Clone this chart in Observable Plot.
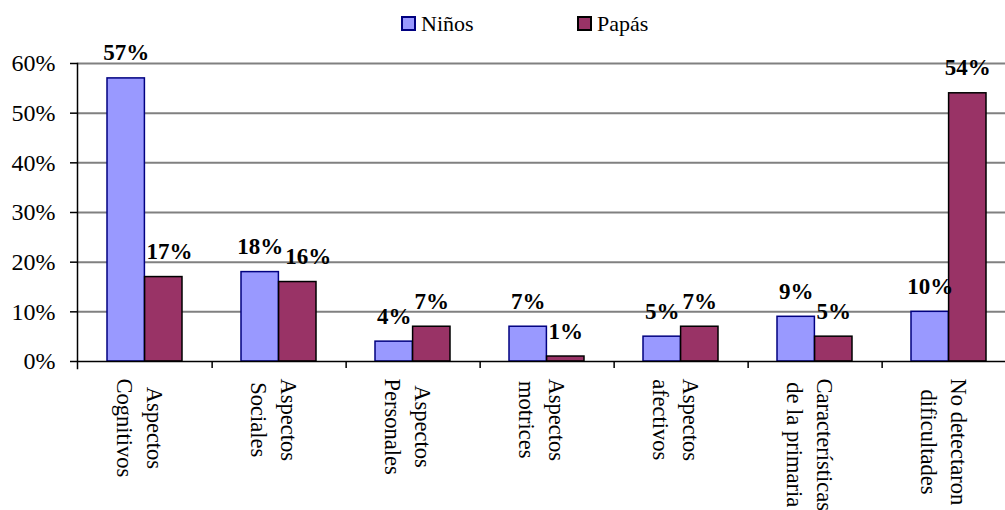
<!DOCTYPE html>
<html><head><meta charset="utf-8">
<script src="https://cdn.jsdelivr.net/npm/d3@7"></script>
<script src="https://cdn.jsdelivr.net/npm/@observablehq/plot@0.6"></script>
<style>
body{margin:0;background:#fff;font-family:"Liberation Serif","Times New Roman",serif;}
#wrap{position:relative;width:1005px;height:510px;overflow:hidden;}
.leg{position:absolute;top:11px;display:flex;align-items:center;font-size:22px;color:#000;line-height:25px;}
.sw{box-sizing:border-box;width:15px;height:15px;border:2px solid;margin-right:5px;}
</style></head><body><div id="wrap"></div>
<script>
const categories = ["Aspectos\nCognitivos", "Aspectos\nSociales", "Aspectos\nPersonales", "Aspectos\nmotrices", "Aspectos\nafectivos", "Características\nde la primaria", "No detectaron\ndificultades"];
const ninos = [57, 18, 4, 7, 5, 9, 10];
const papas = [17, 16, 7, 1, 7, 5, 54];
const series = ["Niños", "Papás"];
const yTicks = [0, 10, 20, 30, 40, 50, 60];
const fills = {"Niños": "#9999FF", "Papás": "#993366"};
const strokes = {"Niños": "#000080", "Papás": "#000000"};

const rows = categories.map((c, i) => ({category: c, ninos: ninos[i], papas: papas[i]}));

const wrap = document.getElementById("wrap");
// legend
const legLeft = {"Niños": 401, "Papás": 577};
series.forEach(s => {
  const d = document.createElement("div");
  d.className = "leg";
  d.style.left = legLeft[s] + "px";
  const sw = document.createElement("div");
  sw.className = "sw";
  sw.style.background = fills[s];
  sw.style.borderColor = strokes[s];
  const t = document.createElement("span");
  t.textContent = s;
  d.append(sw, t);
  wrap.append(d);
});

const left = 77, right = 1017;
const pIn = 0.44, pOut = 0.22;
const step = (right - left) / categories.length;
const bw = step * (1 - pIn);
const font = '"Liberation Serif","Times New Roman",serif';

const chart = Plot.plot({
  width: 1005, height: 510,
  marginTop: 63, marginBottom: 149, marginLeft: 77, marginRight: 0,
  style: {fontFamily: font, background: "transparent", overflow: "visible", color: "#000"},
  x: {domain: categories, range: [left, right], paddingInner: pIn, paddingOuter: pOut, axis: null},
  y: {domain: [0, 60], axis: null},
  marks: [
    Plot.gridY(yTicks.filter(d => d > 0), {stroke: "#808080", strokeOpacity: 1, strokeWidth: 2}),
    Plot.barY(rows, {x: "category", y: "ninos", fill: fills["Niños"], stroke: strokes["Niños"], strokeWidth: 1.5, insetRight: bw / 2}),
    Plot.barY(rows, {x: "category", y: "papas", fill: fills["Papás"], stroke: strokes["Papás"], strokeWidth: 1.5, insetLeft: bw / 2}),
    Plot.ruleY([0], {stroke: "#000", strokeWidth: 1.5}),
    Plot.frame({anchor: "left", stroke: "#000", strokeWidth: 1.5, insetBottom: -7}),
    Plot.ruleX(categories, {x: d => d, y1: 0, y2: 0, dx: step / 2, insetBottom: -7, stroke: "#000", strokeWidth: 1.5}),
    Plot.axisY({ticks: yTicks, tickFormat: d => d + "%", tickSize: 7, tickPadding: 15, fontSize: 24, fill: "#000", stroke: "#000", strokeWidth: 1.5, label: null}),
    Plot.text(rows, {x: "category", y: "ninos", text: d => d.ninos + "%", dx: -bw / 4, dy: -18, lineAnchor: "bottom", fontSize: 23, fontWeight: "bold", fill: "#000"}),
    Plot.text(rows, {x: "category", y: "papas", text: d => d.papas + "%", dx: bw / 4, dy: -18, lineAnchor: "bottom", fontSize: 23, fontWeight: "bold", fill: "#000"}),
    Plot.text(categories, {x: d => d, y: 0, text: d => d, rotate: 90, textAnchor: "middle", lineHeight: 1.35, fontSize: 22.5, fill: "#000", dx: -3})
  ]
});
wrap.append(chart);
chart.style.position = "absolute";
chart.style.left = "0px";
chart.style.top = "0px";

// category labels: longest line starts just below the axis
d3.select(chart).selectAll("text").each(function () {
  const t = this.getAttribute("transform") || "";
  if (!/rotate\(90\)/.test(t)) return;
  const spans = this.querySelectorAll("tspan");
  const lens = spans.length ? [...spans].map(s => s.getComputedTextLength()) : [this.getComputedTextLength()];
  const m = Math.max(...lens);
  this.setAttribute("transform", t + ` translate(${17 + m / 2},0)`);
});

// value labels of the second series are nudged right when they collide (like the spreadsheet does)
const labelGroups = chart.querySelectorAll("g[font-weight='bold']");
const barGroups = chart.querySelectorAll("g[aria-label='bar']");
if (labelGroups.length === 2 && barGroups.length === 2) {
  const obstacles = [...barGroups[0].querySelectorAll("rect"), ...labelGroups[0].querySelectorAll("text")]
    .map(e => e.getBoundingClientRect());
  labelGroups[1].querySelectorAll("text").forEach(el => {
    const r = el.getBoundingClientRect();
    const top = r.top + r.height * 0.2, bottom = r.bottom - r.height * 0.15;
    let shift = 0;
    obstacles.forEach(o => {
      if (o.left < r.right + shift && o.right > r.left + shift && o.top < bottom && o.bottom > top) {
        shift = Math.max(shift, o.right - r.left + 2);
      }
    });
    if (shift > 0) {
      const t = el.getAttribute("transform") || "";
      el.setAttribute("transform", t + ` translate(${shift},0)`);
    }
  });
}
</script>
</body></html>
